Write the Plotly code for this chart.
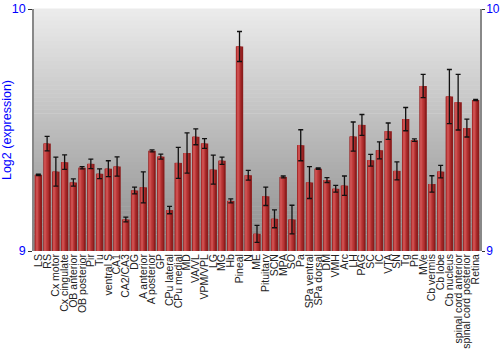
import plotly.graph_objects as go

regions = ["LS", "RS", "Cx motor", "Cx cingulate", "OB anterior", "OB posterior", "Pir", "Tu",
           "ventral S", "CA1", "CA2/CA3", "DG", "A anterior", "A posterior", "GP", "CPu lateral",
           "CPu medial", "MD", "VA/VL", "VPM/VPL", "LG", "MG", "Hb", "Pineal", "N", "ME",
           "Pituitary", "SCN", "MPA", "SO", "Pa", "SPa ventral", "SPa dorsal", "DM", "VMH", "Arc",
           "LH", "PAG", "SC", "IC", "VTA", "SN", "Tg", "Pn", "MVe", "Cb vermis", "Cb lobe",
           "Cb nucleus", "spinal cord anterior", "spinal cord posterior", "Retina"]
expression = [9.315, 9.444, 9.328, 9.367, 9.283, 9.344, 9.360, 9.319,
              9.340, 9.349, 9.130, 9.250, 9.263, 9.414, 9.390, 9.169,
              9.364, 9.405, 9.472, 9.444, 9.336, 9.373, 9.207, 9.845, 9.313, 9.071,
              9.226, 9.133, 9.306, 9.130, 9.437, 9.283, 9.340, 9.293, 9.257, 9.270,
              9.473, 9.521, 9.375, 9.416, 9.495, 9.331, 9.545, 9.458, 9.682, 9.277, 9.328,
              9.638, 9.615, 9.508, 9.624]
error = [0.003, 0.030, 0.060, 0.030, 0.015, 0.005, 0.020, 0.020,
         0.033, 0.040, 0.010, 0.014, 0.064, 0.004, 0.010, 0.015,
         0.064, 0.083, 0.033, 0.020, 0.060, 0.015, 0.008, 0.062, 0.020, 0.035,
         0.038, 0.037, 0.004, 0.059, 0.064, 0.066, 0.003, 0.010, 0.014, 0.040,
         0.060, 0.043, 0.024, 0.035, 0.034, 0.037, 0.048, 0.005, 0.048, 0.034, 0.026,
         0.112, 0.115, 0.037, 0.002]
y_range = [9, 10]
y_ticks = [9, 10]

FONT = "Liberation Sans, Arial, sans-serif"
BLUE = "#0000ff"

fig = go.Figure()

# bar body with a simple shading made of layered bars
layers = [
    (0.84, -0.42, "#8c1c1c"),
    (0.62, -0.40, "#a82a2a"),
    (0.38, -0.33, "#bf3c3c"),
    (0.14, -0.26, "#cc4e4e"),
]
for w, off, col in layers:
    fig.add_trace(go.Bar(
        x=regions, y=[v - y_range[0] for v in expression], base=y_range[0],
        width=w, offset=off, marker=dict(color=col, line=dict(width=0)),
        showlegend=False, hoverinfo="skip"))

fig.add_trace(go.Scatter(
    x=regions, y=expression, mode="markers", marker=dict(size=1, color="rgba(0,0,0,0)"),
    error_y=dict(type="data", array=error, color="#111111", thickness=1.3, width=2.5),
    showlegend=False))

# invisible trace for the right axis
fig.add_trace(go.Scatter(x=regions[:1], y=[y_range[0]], yaxis="y2", mode="markers",
                         marker=dict(size=0.1, color="rgba(0,0,0,0)"), showlegend=False,
                         hoverinfo="skip"))

# background gradient bands
shapes = []
n = 60
top = (236, 236, 236)
bot = (140, 140, 140)
for i in range(n):
    t = (i + 0.5) / n
    c = tuple(int(round(top[k] + (bot[k] - top[k]) * t)) for k in range(3))
    shapes.append(dict(type="rect", xref="paper", yref="paper", x0=0, x1=1,
                       y0=1 - (i + 1) / n, y1=1 - i / n + 0.002, layer="below",
                       line=dict(width=0), fillcolor="rgb(%d,%d,%d)" % c))

fig.update_layout(
    width=500, height=350,
    margin=dict(l=34, r=20, t=9, b=99),
    paper_bgcolor="white", plot_bgcolor="rgba(0,0,0,0)",
    barmode="overlay",
    shapes=shapes,
    font=dict(family=FONT),
    xaxis=dict(type="category", tickangle=-90, showgrid=False, ticks="",
               tickmode="array", tickvals=regions, ticktext=regions,
               tickfont=dict(size=10.5, color="#222222", family=FONT),
               showline=False, range=[-0.5, len(regions) - 0.5], automargin=False),
    yaxis=dict(range=y_range, tickvals=y_ticks, ticktext=[str(v) for v in y_ticks],
               showgrid=False, zeroline=False, showline=True, linecolor="#888888",
               linewidth=1.5, ticks="outside", ticklen=4, tickcolor="#333333",
               tickfont=dict(size=12.5, color=BLUE, family=FONT), automargin=False,
               title=dict(text="Log2 (expression)", font=dict(size=12.5, color=BLUE, family=FONT),
                          standoff=4)),
    yaxis2=dict(range=y_range, tickvals=y_ticks, ticktext=[str(v) for v in y_ticks],
                overlaying="y", side="right", showgrid=False, zeroline=False,
                showline=True, linecolor="#888888", linewidth=1.5,
                ticks="outside", ticklen=3, tickcolor="#333333", automargin=False,
                ticklabelstandoff=-1,
                tickfont=dict(size=12, color=BLUE, family=FONT)),
)

fig.write_html("out.html")
